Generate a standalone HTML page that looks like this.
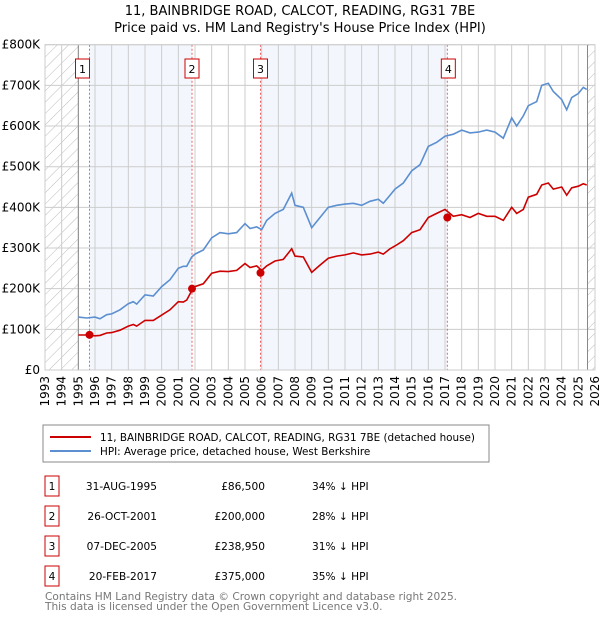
<!DOCTYPE html>
<html><head><meta charset="utf-8"><style>
body{margin:0;background:#fff;font-family:"DejaVu Sans","Liberation Sans",sans-serif;}
svg text{font-family:"DejaVu Sans","Liberation Sans",sans-serif;}
</style></head><body>
<svg id="c" width="600" height="620" viewBox="0 0 600 620" xmlns="http://www.w3.org/2000/svg">
<defs><pattern id="h" width="8" height="8" patternUnits="userSpaceOnUse" patternTransform="rotate(45)"><line x1="0" y1="0" x2="0" y2="8" stroke="#bbb" stroke-width="1"/></pattern></defs>
<text x="300" y="15" text-anchor="middle" font-size="13">11, BAINBRIDGE ROAD, CALCOT, READING, RG31 7BE</text>
<text x="300" y="32" text-anchor="middle" font-size="13">Price paid vs. HM Land Registry's House Price Index (HPI)</text>
<g id="plot"></g>
<rect x="43" y="425" width="446" height="37" fill="none" stroke="#888"/>
<line x1="50" y1="437" x2="91" y2="437" stroke="#cc0000" stroke-width="2"/>
<text x="100" y="441" font-size="10.4">11, BAINBRIDGE ROAD, CALCOT, READING, RG31 7BE (detached house)</text>
<line x1="50" y1="451" x2="91" y2="451" stroke="#5b8fd0" stroke-width="2"/>
<text x="100" y="455" font-size="10.4">HPI: Average price, detached house, West Berkshire</text>
<g id="tbl" font-size="10.6"></g>
<text x="45" y="600" font-size="10.6" fill="#777">Contains HM Land Registry data © Crown copyright and database right 2025.</text>
<text x="45" y="610" font-size="10.6" fill="#777">This data is licensed under the Open Government Licence v3.0.</text>
</svg>
<script>
const years=[1995,1995.5,1996,1996.3,1996.7,1997,1997.5,1998,1998.3,1998.5,1999,1999.5,2000,2000.5,2001,2001.3,2001.5,2001.8,2002,2002.5,2003,2003.5,2004,2004.5,2005,2005.3,2005.7,2006,2006.3,2006.8,2007.3,2007.8,2008,2008.5,2009,2009.5,2010,2010.5,2011,2011.5,2012,2012.5,2013,2013.3,2013.7,2014,2014.5,2015,2015.5,2016,2016.5,2017,2017.5,2018,2018.5,2019,2019.5,2020,2020.5,2021,2021.3,2021.7,2022,2022.5,2022.8,2023.2,2023.5,2024,2024.3,2024.6,2025,2025.3,2025.5];
const hpi=[130,128,130,126,136,138,148,163,168,162,185,182,205,222,250,255,255,278,285,295,325,338,335,338,360,348,352,345,368,385,395,435,405,400,350,375,400,405,408,410,405,415,420,410,430,445,460,490,505,550,560,575,580,590,583,585,590,585,570,620,600,625,650,660,700,705,685,665,640,670,680,695,690];
const red=[86,86,84,85,91,92,98,108,112,108,122,122,135,148,168,167,172,195,205,212,238,243,242,245,262,252,256,245,256,268,272,298,280,278,240,258,275,280,283,288,283,285,290,285,298,305,318,338,345,375,385,395,378,382,375,385,378,378,368,400,385,395,425,432,455,460,445,450,430,448,452,458,455];
const saleYears=[1995.67,2001.82,2005.93,2017.14];
const salePrices=[86.5,200,238.95,375];
const saleDates=["31-AUG-1995","26-OCT-2001","07-DEC-2005","20-FEB-2017"];
const saleLabels=["£86,500","£200,000","£238,950","£375,000"];
const saleDiffs=["34% ↓ HPI","28% ↓ HPI","31% ↓ HPI","35% ↓ HPI"];
const yTicks=[0,100,200,300,400,500,600,700,800];
const yTickLabels=["£0","£100K","£200K","£300K","£400K","£500K","£600K","£700K","£800K"];
const X0=45,X1=595,Y0=370,Y1=44.7;
const xs=y=>X0+(y-1993)*(X1-X0)/33;
const ys=v=>Y0-v*(Y0-Y1)/800;
const NS="http://www.w3.org/2000/svg";
const g=document.getElementById('plot');
function mk(t,a,p){const e=document.createElementNS(NS,t);for(const k in a)e.setAttribute(k,a[k]);(p||g).appendChild(e);return e;}
let e=mk('rect',{x:xs(saleYears[0]),y:Y1,width:xs(saleYears[1])-xs(saleYears[0]),height:Y0-Y1,fill:'#eef3fc',opacity:0.7});


e=mk('rect',{x:xs(saleYears[2]),y:Y1,width:xs(saleYears[3])-xs(saleYears[2]),height:Y0-Y1,fill:'#eef3fc',opacity:0.7});


e=mk('rect',{x:X0,y:Y1,width:xs(1995)-X0,height:Y0-Y1,fill:'url(#h)'});


e=mk('rect',{x:xs(2025.55),y:Y1,width:X1-xs(2025.55),height:Y0-Y1,fill:'url(#h)'});


for(let y=1993;y<=2026;y++){
 e=mk('line',{x1:xs(y),y1:Y1,x2:xs(y),y2:Y0,stroke:'#ccc','stroke-width':1});
 
 
 const tx=xs(y)+4;
 e=mk('text',{x:0,y:0,'font-size':12,'text-anchor':'end',transform:`translate(${tx},376) rotate(-90)`});
 e.textContent=y;
 
 
}
yTicks.forEach((v,i)=>{
 e=mk('line',{x1:X0,y1:ys(v),x2:X1,y2:ys(v),stroke:'#ccc','stroke-width':1});
 
 
 e=mk('text',{x:40,y:ys(v)+4,'font-size':12,'text-anchor':'end'});
 e.textContent=yTickLabels[i];
 
 
});
e=mk('line',{x1:xs(1995),y1:Y1,x2:xs(1995),y2:Y0,stroke:'#888'});


e=mk('line',{x1:xs(2025.55),y1:Y1,x2:xs(2025.55),y2:Y0,stroke:'#888'});


saleYears.forEach((y,i)=>{
 e=mk('line',{x1:xs(y),y1:Y1,x2:xs(y),y2:Y0,stroke:'#f06060','stroke-dasharray':'2,2'});
 
 
 const bx=xs(y)-(i==0?14:i==3?6:7);
 e=mk('rect',{x:bx,y:59,width:14,height:19,fill:'#fff',stroke:'#cc0000'});
 
 
 e=mk('text',{x:bx+7,y:73,'font-size':11,'text-anchor':'middle'});
 e.textContent=i+1;
 
 
});
const path=arr=>arr.map((v,i)=>(i?'L':'M')+xs(years[i]).toFixed(1)+','+ys(v).toFixed(1)).join('');
e=mk('path',{d:path(hpi),fill:'none',stroke:'#5b8fd0','stroke-width':1.6});


e=mk('path',{d:path(red),fill:'none',stroke:'#cc0000','stroke-width':1.6});


saleYears.forEach((y,i)=>{
 e=mk('circle',{cx:xs(y),cy:ys(salePrices[i]),r:4,fill:'#cc0000'});
 
 
});
e=mk('rect',{x:X0,y:Y1,width:X1-X0,height:Y0-Y1,fill:'none',stroke:'#ccc'});


const t=document.getElementById('tbl');
const rowY=[487,517,547,577];
rowY.forEach((ry,i)=>{
 e=mk('rect',{x:45,y:ry-11,width:14,height:20,fill:'#fff',stroke:'#cc0000'},t);
 
 
 e=mk('text',{x:52,y:ry+3,'text-anchor':'middle'},t);e.textContent=i+1;
 
 
 e=mk('text',{x:157,y:ry+3,'text-anchor':'end'},t);e.textContent=saleDates[i];
 
 
 e=mk('text',{x:265,y:ry+3,'text-anchor':'end'},t);e.textContent=saleLabels[i];
 
 
 e=mk('text',{x:312,y:ry+3},t);e.textContent=saleDiffs[i];
 
 
});
</script>
</body></html>
